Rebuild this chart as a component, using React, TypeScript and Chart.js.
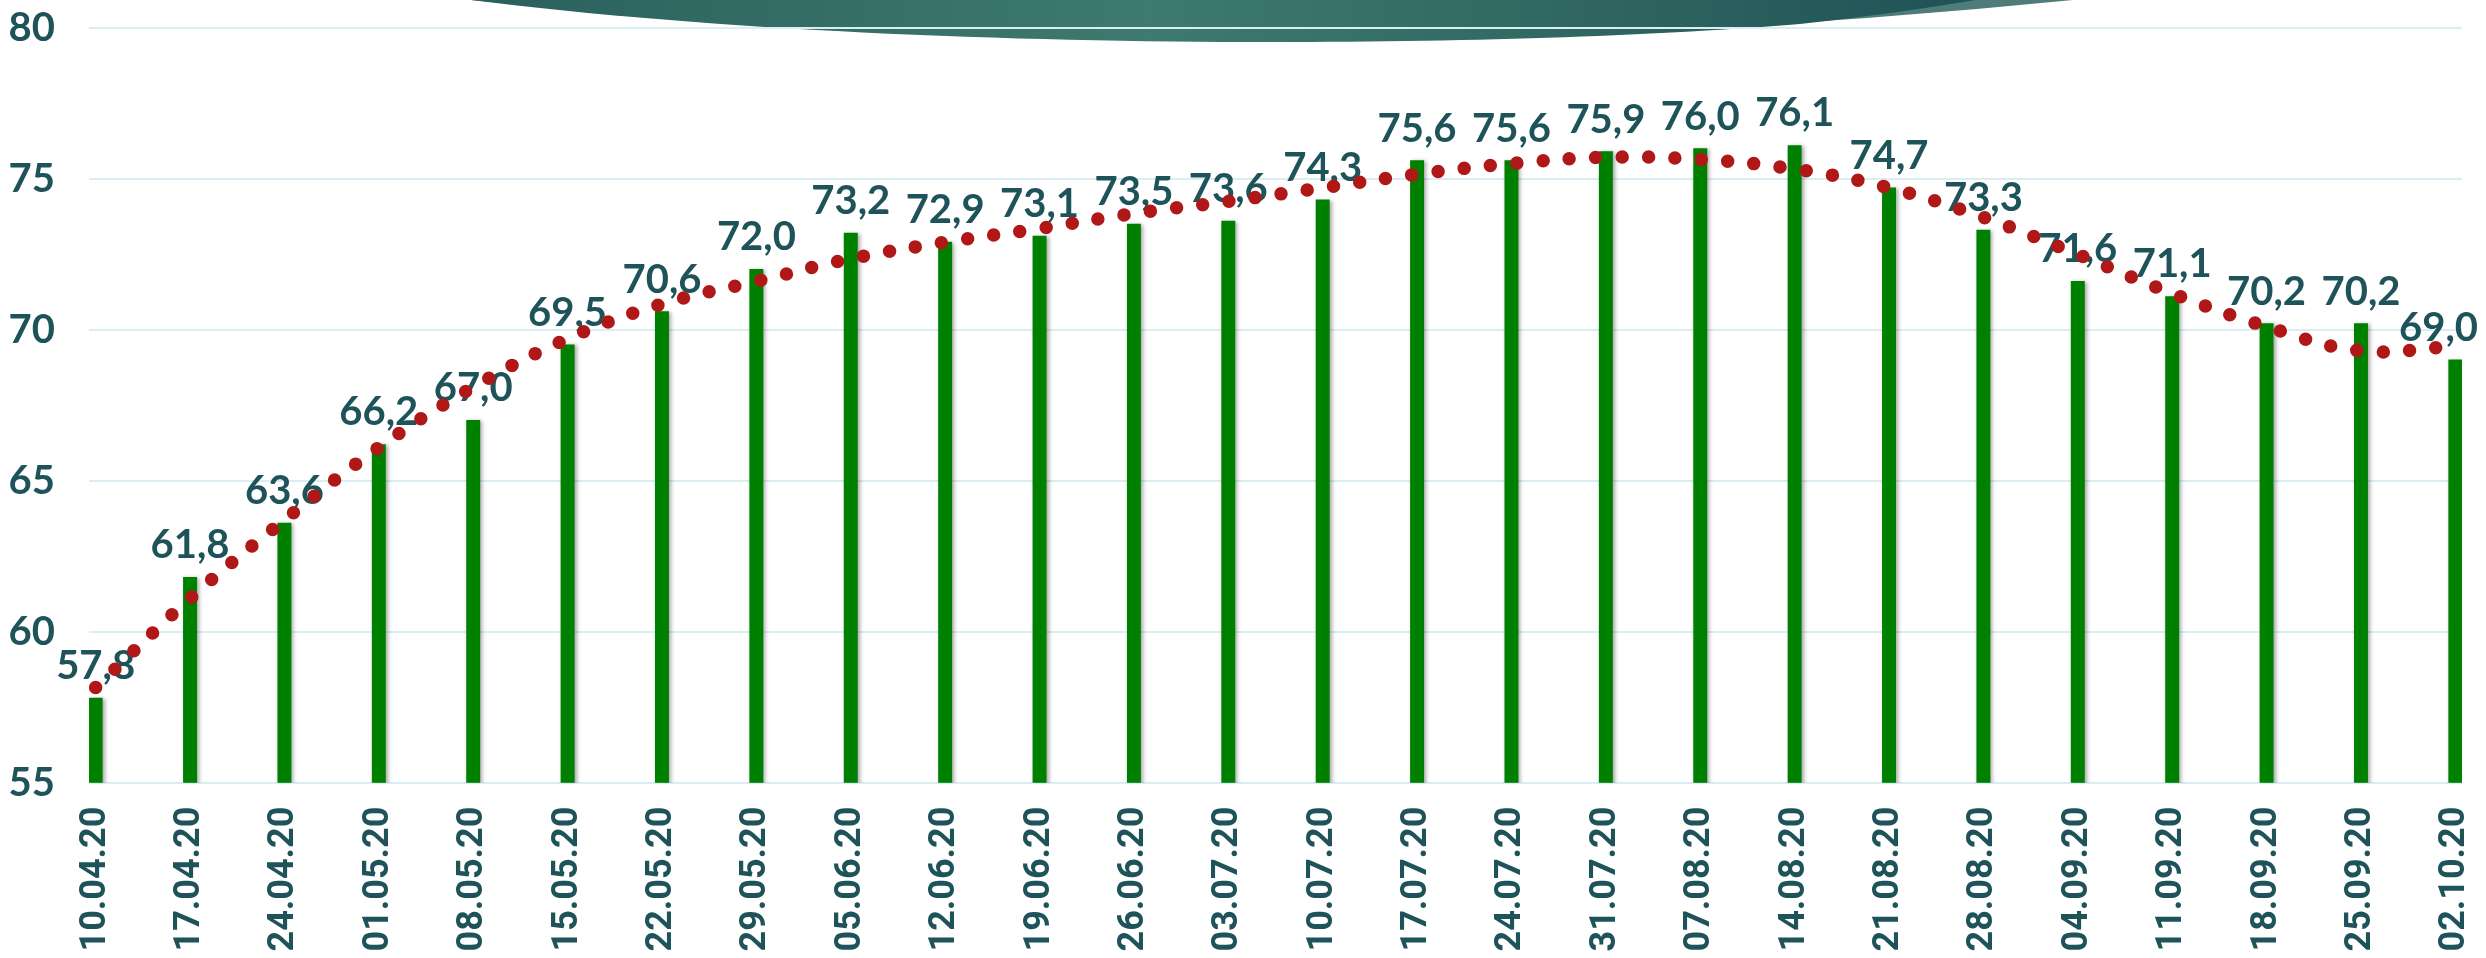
import React, { useEffect, useRef } from 'react';
import { Chart, registerables } from 'chart.js';

Chart.register(...registerables);

const dates = [
  '10.04.20', '17.04.20', '24.04.20', '01.05.20', '08.05.20', '15.05.20', '22.05.20',
  '29.05.20', '05.06.20', '12.06.20', '19.06.20', '26.06.20', '03.07.20', '10.07.20',
  '17.07.20', '24.07.20', '31.07.20', '07.08.20', '14.08.20', '21.08.20', '28.08.20',
  '04.09.20', '11.09.20', '18.09.20', '25.09.20', '02.10.20',
];
const values = [
  57.8, 61.8, 63.6, 66.2, 67.0, 69.5, 70.6, 72.0, 73.2, 72.9, 73.1, 73.5, 73.6, 74.3,
  75.6, 75.6, 75.9, 76.0, 76.1, 74.7, 73.3, 71.6, 71.1, 70.2, 70.2, 69.0,
];
const trend = [
  58.15, 61.1, 63.7, 66.1, 68.1, 69.7, 70.85, 71.6, 72.35, 72.9, 73.35, 73.85, 74.25, 74.7,
  75.15, 75.5, 75.71, 75.64, 75.32, 74.7, 73.72, 72.49, 71.2, 70.1, 69.3, 69.45,
];
const yTicks = [55, 60, 65, 70, 75, 80];

const TEAL = '#1F535A';

export default function App() {
  const ref = useRef<HTMLCanvasElement>(null);

  useEffect(() => {
    document.body.style.margin = '0';
    const canvas = ref.current;
    if (!canvas) return;

    const bgShape = {
      id: 'bgShape',
      beforeDraw(chart: any) {
        const ctx = chart.ctx;
        ctx.save();
        ctx.beginPath();
        ctx.moveTo(471, 0);
        ctx.quadraticCurveTo(1272, 80, 2073, 0);
        ctx.closePath();
        ctx.fillStyle = '#4F7B79';
        ctx.fill();
        const g = ctx.createLinearGradient(471, 0, 1975, 0);
        g.addColorStop(0, '#2A605C');
        g.addColorStop(0.45, '#3E7A70');
        g.addColorStop(0.8, '#2C625E');
        g.addColorStop(1, '#1F5257');
        ctx.beginPath();
        ctx.moveTo(471, 0);
        ctx.bezierCurveTo(900, 54, 1500, 49, 1800, 24);
        ctx.quadraticCurveTo(1900, 13, 1975, 0);
        ctx.closePath();
        ctx.fillStyle = g;
        ctx.fill();
        ctx.restore();
      },
    };

    const barFx = {
      id: 'barFx',
      beforeDatasetDraw(chart: any, args: any) {
        if (args.index !== 0) return;
        const ctx = chart.ctx;
        ctx.save();
        ctx.shadowColor = 'rgba(0,0,0,0.35)';
        ctx.shadowBlur = 4;
        ctx.shadowOffsetX = 2;
        ctx.shadowOffsetY = 1;
      },
      afterDatasetDraw(chart: any, args: any) {
        if (args.index !== 0) return;
        const ctx = chart.ctx;
        ctx.restore();
        ctx.save();
        ctx.font = 'bold 40px Lato';
        ctx.fillStyle = TEAL;
        ctx.textAlign = 'center';
        ctx.textBaseline = 'alphabetic';
        const meta = chart.getDatasetMeta(0);
        meta.data.forEach((el: any, i: number) => {
          const txt = values[i].toFixed(1).replace('.', ',');
          const w = ctx.measureText(txt).width;
          const x = Math.min(el.x, chart.width - 8 - w / 2);
          ctx.fillText(txt, x, el.y - 19);
        });
        ctx.restore();
      },
    };

    const chart = new Chart(canvas, {
      type: 'bar',
      data: {
        datasets: [
          {
            type: 'bar',
            data: values.map((v, i) => ({ x: i, y: v })),
            backgroundColor: '#008000',
            barThickness: 13.3,
            order: 2,
          } as any,
          {
            type: 'line',
            data: trend.map((v, i) => ({ x: i, y: v })),
            borderColor: '#B01818',
            borderWidth: 13.5,
            borderDash: [0, 26.4],
            borderCapStyle: 'round',
            pointRadius: 0,
            tension: 0.4,
            fill: false,
            order: 1,
          } as any,
        ],
      },
      options: {
        animation: false,
        responsive: true,
        maintainAspectRatio: false,
        layout: { padding: { top: 27.7, right: 24, left: 0, bottom: 0 } },
        plugins: {
          legend: { display: false },
          tooltip: { enabled: false },
        },
        scales: {
          x: {
            type: 'linear',
            offset: false,
            min: -0.0705,
            max: 25.0705,
            grid: { display: false, offset: false },
            border: { display: false },
            afterBuildTicks: (s: any) => {
              s.ticks = dates.map((_, i) => ({ value: i }));
            },
            afterFit: (s: any) => {
              s.height = 175.3;
              s.paddingLeft = 0;
              s.paddingRight = 0;
            },
            ticks: {
              autoSkip: false,
              maxRotation: 90,
              minRotation: 90,
              padding: 16,
              color: TEAL,
              font: { family: 'Roboto', weight: 'bold', size: 36 },
              callback: (v: any) => dates[v as number],
            },
          },
          y: {
            min: 55,
            max: 80,
            afterBuildTicks: (s: any) => {
              s.ticks = yTicks.map((v) => ({ value: v }));
            },
            afterFit: (s: any) => {
              s.width = 89;
              s.paddingTop = 0;
              s.paddingBottom = 0;
            },
            grid: { color: '#D8EEF3', lineWidth: 2, drawTicks: false },
            border: { display: false },
            ticks: {
              padding: 34,
              color: TEAL,
              font: { family: 'Lato', weight: 'bold', size: 40 },
            },
          },
        } as any,
      },
      plugins: [bgShape, barFx],
    });

    return () => chart.destroy();
  }, []);

  return (
    <div style={{ width: '2486px', height: '958px', position: 'relative' }}>
      <canvas ref={ref} />
    </div>
  );
}
